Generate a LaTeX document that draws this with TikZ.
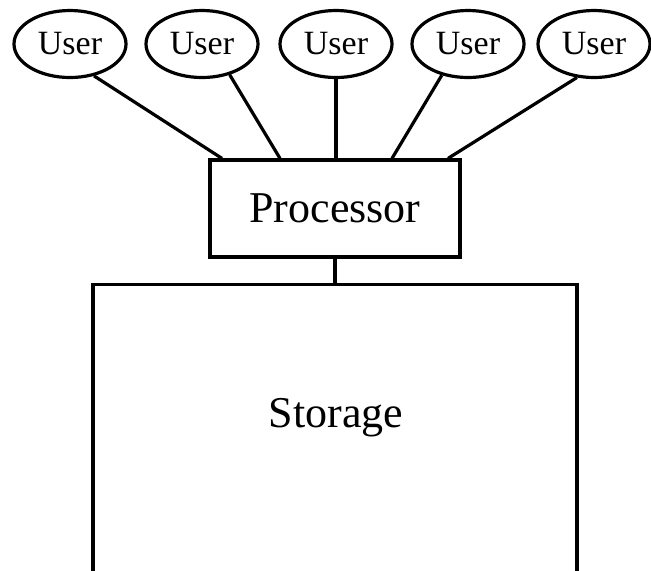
\documentclass[tikz,border=0pt]{standalone}
\usepackage{fontspec}
\setmainfont{Liberation Serif}
\usetikzlibrary{calc, positioning, shapes.geometric}

\begin{document}
\begin{tikzpicture}[
  x=0.5pt, y=-0.5pt,
  user/.style={draw, ellipse, line width=1.6pt, inner sep=0pt,
               minimum width=56pt, minimum height=33.5pt, font=\fontsize{17}{20}\selectfont},
  box/.style={draw, rectangle, line width=1.6pt, inner sep=0pt},
  link/.style={line width=1.6pt}
]
  \useasboundingbox (0,0) rectangle (651,570);
  \clip (0,0) rectangle (651,570);

  \node[box, minimum width=125pt, minimum height=48.5pt,
        font=\fontsize{22}{26}\selectfont] (proc) at (335,208.5) {Processor};
  \node[box, minimum width=242pt, minimum height=200pt, anchor=north] (storage) at (335,283) {};
  \node[font=\fontsize{22}{26}\selectfont] (storagetext) at (336,418) {Storage};

  \foreach \i/\x/\a/\dx in {1/70/-53/-113, 2/202/-48/-55, 3/336/-90/1, 4/468/-130/57, 5/594/-117/113} {
    \node[user] (user\i) at (\x,44) {User};
    \draw[link] (user\i.\a) -- ($(proc.north)+(\dx,0)$);
  }

  \draw[link] (proc) -- (storage);
\end{tikzpicture}
\end{document}
